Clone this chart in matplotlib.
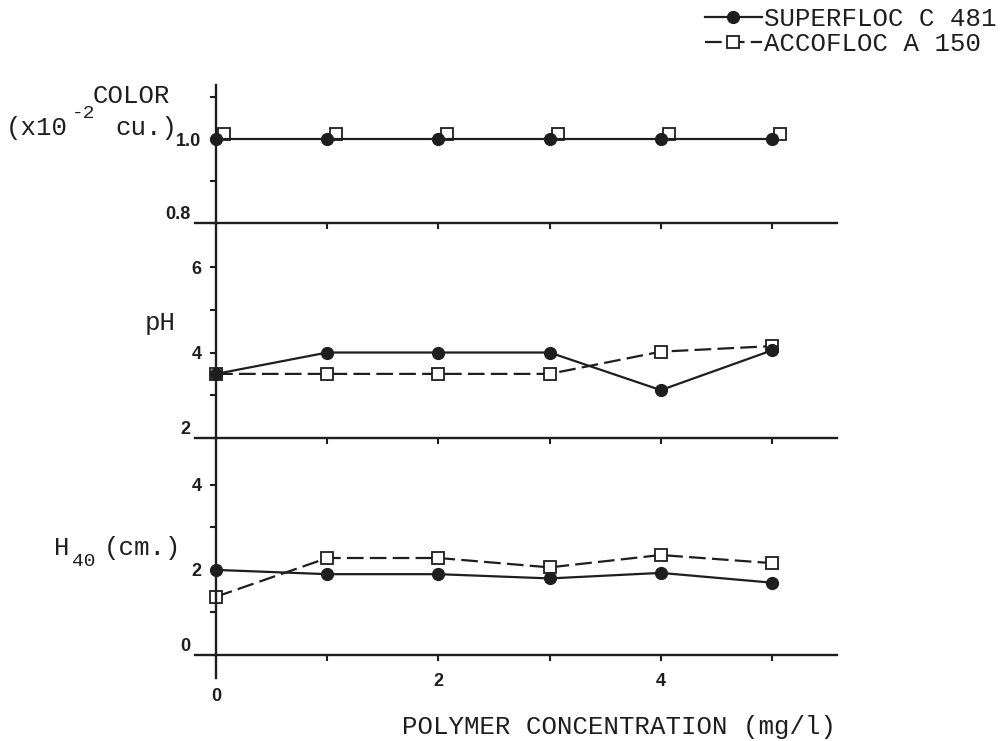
import matplotlib.pyplot as plt
import matplotlib.transforms as mtransforms
from matplotlib.ticker import FixedLocator

# Polymer dose (mg/l)
conc = [0, 1, 2, 3, 4, 5]

# Superfloc C 481
color_superfloc = [1.0, 1.0, 1.0, 1.0, 1.0, 1.0]
ph_superfloc = [3.5, 4.0, 4.0, 4.0, 3.12, 4.05]
h40_superfloc = [2.0, 1.9, 1.9, 1.8, 1.93, 1.7]

# Accofloc A 150
color_accofloc = [1.0, 1.0, 1.0, 1.0, 1.0, 1.0]
ph_accofloc = [3.5, 3.5, 3.5, 3.5, 4.02, 4.15]
h40_accofloc = [1.37, 2.28, 2.28, 2.06, 2.35, 2.16]

ink = '#1e1e1e'
mono = ['Liberation Mono', 'DejaVu Sans Mono']
sans = ['Liberation Sans', 'DejaVu Sans']

fig = plt.figure(figsize=(10.06, 7.41), dpi=100)
W, H = 1006, 741


def panel(top, bottom):
    left, right = 195, 837
    return fig.add_axes([left / W, 1 - bottom / H, (right - left) / W, (bottom - top) / H])


ax_c = panel(85, 223)
ax_p = panel(223, 438)
ax_h = panel(438, 678)

ax_c.set_ylim(0.8, 1.129)
ax_p.set_ylim(2, 7.03)
ax_h.set_ylim(-0.54, 5.1)

yticks = {
    ax_c: ([0.8, 0.9, 1.0, 1.1], {0.8: '0.8', 1.0: '1.0'}),
    ax_p: ([2, 3, 4, 5, 6], {2: '2', 4: '4', 6: '6'}),
    ax_h: ([0, 1, 2, 3, 4], {0: '0', 2: '2', 4: '4'}),
}

for ax in (ax_c, ax_p, ax_h):
    ax.set_xlim(-0.19, 5.585)
    ax.patch.set_alpha(0)
    for s in ('top', 'right'):
        ax.spines[s].set_visible(False)
    ax.spines['left'].set_position(('data', 0))
    for s in ('left', 'bottom'):
        ax.spines[s].set_linewidth(1.7)
        ax.spines[s].set_color(ink)
    ax.xaxis.set_major_locator(FixedLocator([1, 2, 3, 4, 5]))
    ax.tick_params(axis='both', direction='out', length=4.5, width=1.5, color=ink)
    ax.tick_params(axis='y', pad=6, labelsize=13, labelcolor=ink)
    ax.tick_params(axis='x', pad=8.5, labelsize=13, labelcolor=ink)

    locs, labels = yticks[ax]
    ax.yaxis.set_major_locator(FixedLocator(locs))
    ax.set_yticklabels([labels.get(v, '') for v in locs], family=sans, weight='bold')
    # lowest label sits on the panel's base line, further left
    t0 = ax.yaxis.get_major_ticks()[0]
    t0.set_pad(14)
    t0.label1.set_verticalalignment('bottom')

ax_c.set_xticklabels([])
ax_p.set_xticklabels([])

ax_h.spines['bottom'].set_position(('data', 0))
ax_h.xaxis.set_major_locator(FixedLocator([0, 1, 2, 3, 4, 5]))
ax_h.set_xticklabels(['0', '', '2', '', '4', ''], family=sans, weight='bold')
t0 = ax_h.xaxis.get_major_ticks()[0]
t0.tick1line.set_visible(False)
t0.set_pad(19)

line_kw = dict(color=ink, lw=1.6)
circ = dict(marker='o', ms=8.5, mfc=ink, mec=ink)
sq = dict(marker='s', ms=8, mfc='white', mec=ink, mew=1.3)
dash = (0, (7.5, 2.8))

# colour: squares sit just beside the circles
shifted = mtransforms.offset_copy(ax_c.transData, fig=fig, x=6, y=4, units='points')
ax_c.plot(conc, color_accofloc, ls='none', transform=shifted, clip_on=False, **sq)
ax_c.plot(conc, color_superfloc, ls='-', clip_on=False, **line_kw, **circ)

ax_p.plot(conc, ph_accofloc, ls=dash, clip_on=False, **line_kw, **sq)
ax_p.plot(conc, ph_superfloc, ls='-', clip_on=False, **line_kw, **circ)

h_acc, = ax_h.plot(conc, h40_accofloc, ls=dash, clip_on=False, **line_kw, **sq)
h_sup, = ax_h.plot(conc, h40_superfloc, ls='-', clip_on=False, **line_kw, **circ)

txt = dict(family=mono, color=ink, fontsize=18.5, ha='left', va='center')
small = dict(family=mono, color=ink, fontsize=14, ha='left', va='center')
fig.text(93 / W, 1 - 96 / H, 'COLOR', **txt)
fig.text(6 / W, 1 - 128 / H, '(x10', **txt)
fig.text(72 / W, 1 - 113 / H, '-2', **small)
fig.text(115 / W, 1 - 128 / H, 'cu.)', **txt)
fig.text(145 / W, 1 - 323 / H, 'pH', **txt)
fig.text(54 / W, 1 - 548 / H, 'H', **txt)
fig.text(72 / W, 1 - 561 / H, '40', **small)
fig.text(104 / W, 1 - 548 / H, '(cm.)', **txt)
fig.text(402 / W, 1 - 727 / H, 'POLYMER CONCENTRATION (mg/l)', **txt)

leg = fig.legend([h_sup, h_acc], ['SUPERFLOC C 481', 'ACCOFLOC A 150'],
                 loc='upper left', bbox_to_anchor=(700 / W, 1 - 2 / H),
                 frameon=False, handlelength=2.2, handletextpad=0.1,
                 labelspacing=0.02, borderpad=0.2, borderaxespad=0,
                 prop={'family': mono, 'size': 18.5})
for t in leg.get_texts():
    t.set_color(ink)

fig.savefig('out.png', dpi=100, facecolor='white')
